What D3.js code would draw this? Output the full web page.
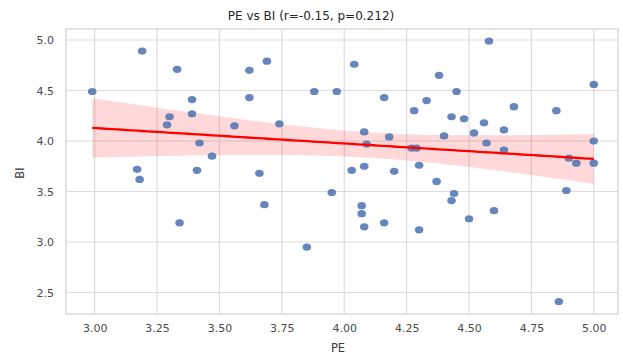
<!DOCTYPE html>
<html>
<head>
<meta charset="utf-8">
<script src="https://cdn.jsdelivr.net/npm/d3@7"></script>
<style>
  html, body { margin: 0; padding: 0; background: #fff; }
  svg { display: block; font-family: "DejaVu Sans", sans-serif; }
</style>
</head>
<body>
<svg id="chart" width="623" height="354"></svg>
<script>
const title = "PE vs BI (r=-0.15, p=0.212)";
const xLabel = "PE";
const yLabel = "BI";
const xTicks = [3.00, 3.25, 3.50, 3.75, 4.00, 4.25, 4.50, 4.75, 5.00];
const yTicks = [2.5, 3.0, 3.5, 4.0, 4.5, 5.0];
const peValues = [2.99,3.17,3.18,3.19,3.29,3.30,3.33,3.34,3.39,3.39,3.41,3.42,3.47,3.56,3.62,3.62,3.66,3.68,3.69,3.74,3.85,3.88,3.95,3.97,4.03,4.04,4.07,4.07,4.08,4.08,4.08,4.09,4.16,4.16,4.18,4.20,4.27,4.29,4.28,4.30,4.30,4.33,4.37,4.38,4.40,4.43,4.43,4.44,4.45,4.48,4.50,4.52,4.56,4.57,4.58,4.60,4.64,4.64,4.68,4.85,4.86,4.89,4.90,4.93,5.00,5.00,5.00];
const biValues = [4.49,3.72,3.62,4.89,4.16,4.24,4.71,3.19,4.41,4.27,3.71,3.98,3.85,4.15,4.70,4.43,3.68,3.37,4.79,4.17,2.95,4.49,3.49,4.49,3.71,4.76,3.36,3.28,3.15,3.75,4.09,3.97,4.43,3.19,4.04,3.70,3.93,3.93,4.30,3.76,3.12,4.40,3.60,4.65,4.05,4.24,3.41,3.48,4.49,4.22,3.23,4.08,4.18,3.98,4.99,3.31,4.11,3.91,4.34,4.30,2.41,3.51,3.83,3.78,4.56,4.00,3.78];

const svg = d3.select("#chart");
const mL = 66, mR = 618, mT = 29, mB = 314;

const x = d3.scaleLinear().domain([2.885, 5.097]).range([mL, mR]);
const y = d3.scaleLinear().domain([2.287, 5.109]).range([mB, mT]);

// grid
const g = svg.append("g");
g.selectAll("line.vx").data(xTicks).join("line")
  .attr("x1", d => x(d)).attr("x2", d => x(d)).attr("y1", mT).attr("y2", mB)
  .attr("stroke", "#dcdcdc").attr("stroke-width", 1.2);
g.selectAll("line.hy").data(yTicks).join("line")
  .attr("y1", d => y(d)).attr("y2", d => y(d)).attr("x1", mL).attr("x2", mR)
  .attr("stroke", "#dcdcdc").attr("stroke-width", 1.2);
g.append("rect").attr("x", mL).attr("y", mT).attr("width", mR - mL).attr("height", mB - mT)
  .attr("fill", "none").attr("stroke", "#d4d4d4").attr("stroke-width", 1.3);

// axes (labels only)
const xAxis = d3.axisBottom(x).tickValues(xTicks).tickFormat(d3.format(".2f")).tickSize(0).tickPadding(10);
const yAxis = d3.axisLeft(y).tickValues(yTicks).tickFormat(d3.format(".1f")).tickSize(0).tickPadding(12);
const gx = svg.append("g").attr("transform", `translate(0,${mB})`).call(xAxis);
const gy = svg.append("g").attr("transform", `translate(${mL},0)`).call(yAxis);
[gx, gy].forEach(a => {
  a.select(".domain").remove();
  a.selectAll("text").attr("fill", "#4a4a4a").style("font-size", "11px").style("font-family", "DejaVu Sans, sans-serif");
});

// regression
const n = peValues.length;
const mx = d3.mean(peValues), my = d3.mean(biValues);
let sxx = 0, sxy = 0;
for (let i = 0; i < n; i++) { sxx += (peValues[i]-mx)**2; sxy += (peValues[i]-mx)*(biValues[i]-my); }
const slope = sxy / sxx, intercept = my - slope * mx;
let sse = 0;
for (let i = 0; i < n; i++) { sse += (biValues[i] - (intercept + slope*peValues[i]))**2; }
const s = Math.sqrt(sse / (n - 2));
const tcrit = 1.997;
const xs = d3.range(0, 101).map(i => d3.min(peValues) + i * (d3.max(peValues) - d3.min(peValues)) / 100);
const band = xs.map(v => {
  const yh = intercept + slope * v;
  const se = s * Math.sqrt(1/n + (v-mx)**2/sxx);
  return {x: v, y: yh, lo: yh - tcrit*se, hi: yh + tcrit*se};
});
svg.append("path").datum(band)
  .attr("d", d3.area().x(d => x(d.x)).y0(d => y(d.lo)).y1(d => y(d.hi)))
  .attr("fill", "#ff0000").attr("fill-opacity", 0.15);

// points
const pts = peValues.map((v, i) => ({x: v, y: biValues[i]}));
svg.append("g").selectAll("ellipse").data(pts).join("ellipse")
  .attr("cx", d => x(d.x)).attr("cy", d => y(d.y))
  .attr("rx", 4.3).attr("ry", 3.6)
  .attr("fill", "#4C72B0").attr("fill-opacity", 0.85);

svg.append("path").datum(band)
  .attr("d", d3.line().x(d => x(d.x)).y(d => y(d.y)))
  .attr("fill", "none").attr("stroke", "#ff0000").attr("stroke-width", 2.3);

// title & labels
svg.append("text").attr("x", 311).attr("y", 20).attr("text-anchor", "middle")
  .style("font-size", "12px").attr("fill", "#262626").text(title);
svg.append("text").attr("x", (mL+mR)/2 - 4).attr("y", 352).attr("text-anchor", "middle")
  .style("font-size", "11.5px").attr("fill", "#3a3a3a").text(xLabel);
svg.append("text").attr("transform", `translate(24,173) rotate(-90)`).attr("text-anchor", "middle")
  .style("font-size", "11.5px").attr("fill", "#3a3a3a").text(yLabel);
</script>
</body>
</html>
